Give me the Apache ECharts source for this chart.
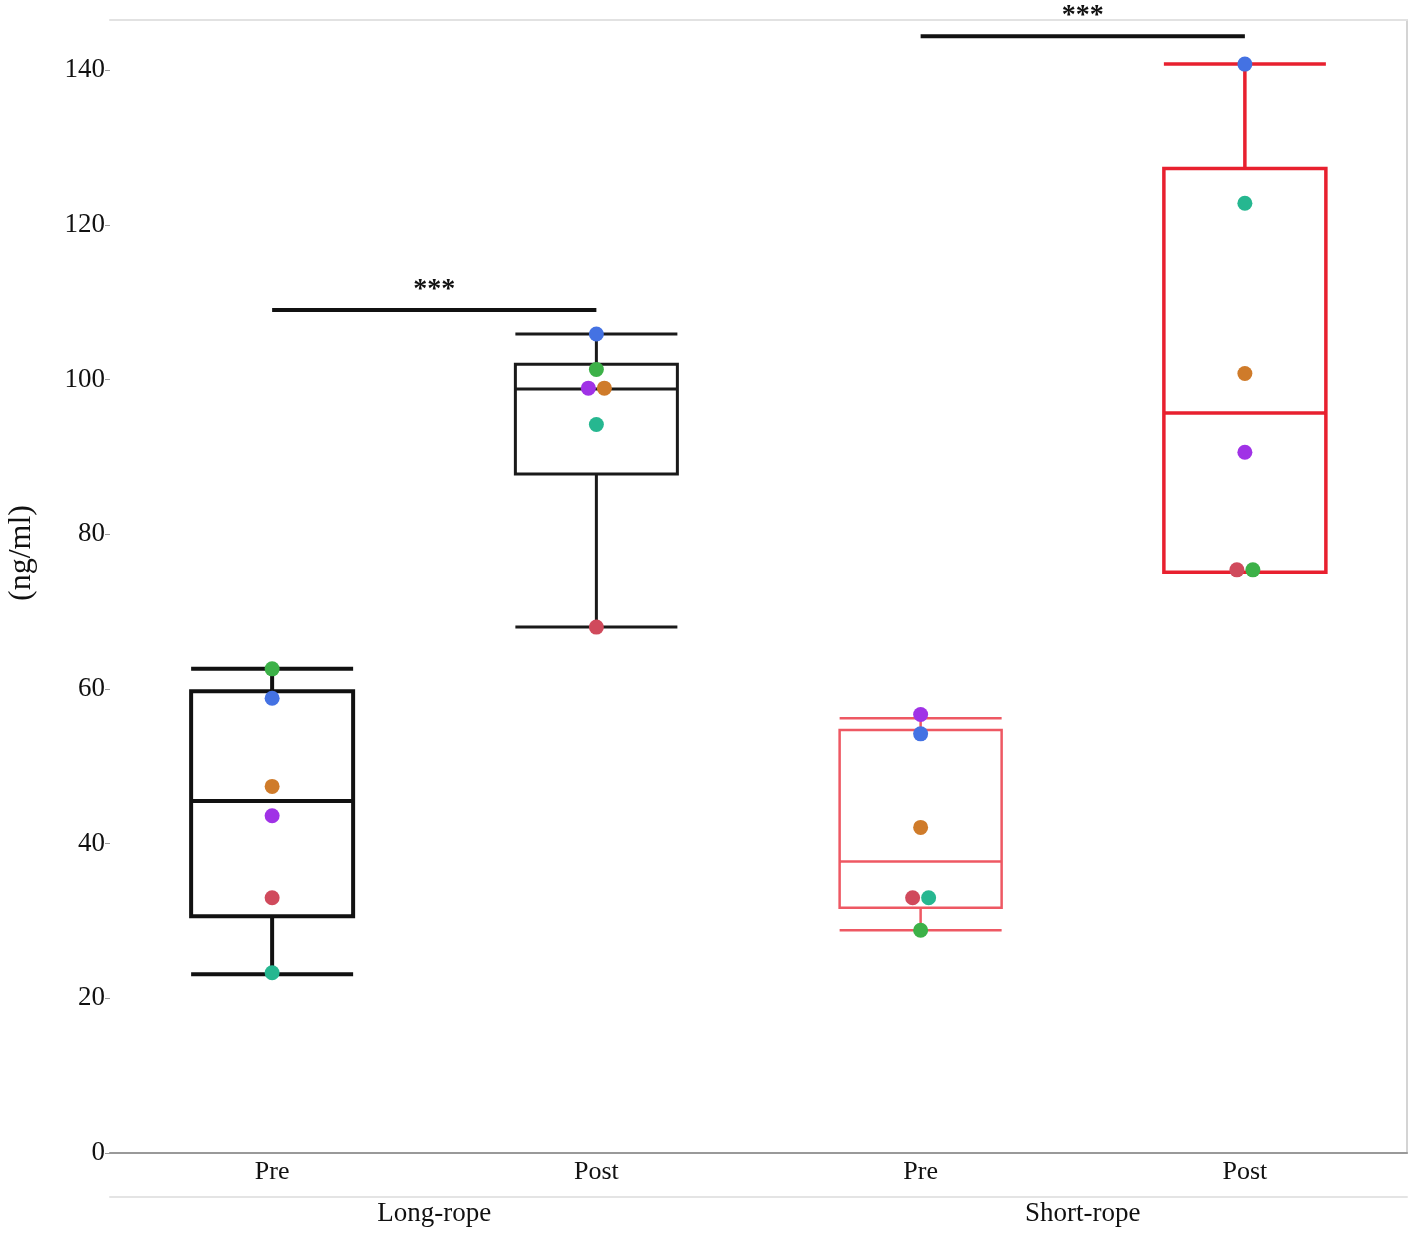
<!DOCTYPE html>
<html>
<head>
<meta charset="utf-8">
<title>Pre / Post boxplot</title>
<script src="https://cdn.jsdelivr.net/npm/echarts@6/dist/echarts.min.js"></script>
<style>
  html, body { margin: 0; padding: 0; background: #fff; }
  #main { width: 1418px; height: 1239px; }
</style>
</head>
<body>
<div id="main"></div>
<script>
// categories
var phases = ['Pre', 'Post', 'Pre', 'Post'];
var groups = ['Long-rope', 'Short-rope'];
var yTicks = [0, 20, 40, 60, 80, 100, 120, 140];

// box stats per category: [min, Q1, median, Q3, max]
var longPre = [23.1, 30.6, 45.5, 59.7, 62.6];
var longPost = [68.0, 87.8, 98.8, 102.0, 105.9];
var shortPre = [28.8, 31.7, 37.7, 54.7, 56.2];
var shortPost = [75.1, 75.1, 95.7, 127.3, 140.8];

// individual subjects, one value per category
var subjBlue = [58.8, 105.9, 54.2, 140.8];
var subjGreen = [62.6, 101.3, 28.8, 75.4];
var subjOrange = [47.4, 98.9, 42.1, 100.8];
var subjPurple = [43.6, 98.9, 56.7, 90.6];
var subjRed = [33.0, 68.0, 33.0, 75.4];
var subjTeal = [23.3, 94.2, 33.0, 122.8];

// significance brackets: [from category, to category, height]
var brackets = [[0, 1, 109.0], [2, 3, 144.4]];

var serif = '"Liberation Serif", "DejaVu Serif", serif';

var myChart = echarts.init(document.getElementById('main'));

var boxStyles = [
    { color: '#fff', borderColor: '#111', borderWidth: 4 },
    { color: '#fff', borderColor: '#1a1a1a', borderWidth: 3 },
    { color: '#fff', borderColor: 'rgba(232,32,47,0.75)', borderWidth: 2.5 },
    { color: '#fff', borderColor: '#e8202f', borderWidth: 3.5 }
];
var boxData = [longPre, longPost, shortPre, shortPost].map(function (v, i) {
    return { value: v, itemStyle: boxStyles[i] };
});

// small sideways nudge where two dots share a value
var nudge = {
    orange: [0, 8, 0, 0],
    purple: [0, -8, 0, 0],
    red: [0, 0, -8, -8],
    teal: [0, 0, 8, 0],
    green: [0, 0, 0, 8]
};

function dots(name, vals, color) {
    var off = nudge[name] || [0, 0, 0, 0];
    return {
        name: name,
        type: 'scatter',
        symbolSize: 15,
        z: 5,
        itemStyle: { color: color, opacity: 1 },
        data: vals.map(function (v, i) {
            return { value: [i, v], symbolOffset: [off[i], 0] };
        })
    };
}

var option = {
    animation: false,
    backgroundColor: '#fff',
    grid: { left: 110, right: 11, top: 20, bottom: 86 },
    xAxis: [{
        type: 'category',
        data: phases,
        position: 'bottom',
        z: 3,
        axisLine: { lineStyle: { color: '#999', width: 2 } },
        axisTick: { show: false },
        axisLabel: { fontFamily: serif, fontSize: 26, color: '#111', margin: 6 }
    }, {
        type: 'category',
        data: groups,
        position: 'bottom',
        offset: 44,
        axisLine: { onZero: false, lineStyle: { color: '#e4e4e4', width: 2 } },
        axisTick: { show: false },
        axisLabel: { fontFamily: serif, fontSize: 27, color: '#111', margin: 3 }
    }, {
        type: 'category',
        data: phases,
        position: 'top',
        axisLine: { onZero: false, lineStyle: { color: '#e2e2e2', width: 2 } },
        axisTick: { show: false },
        axisLabel: { show: false }
    }],
    yAxis: [{
        type: 'value',
        min: 0,
        max: 146.5,
        interval: 20,
        axisLine: { show: false },
        axisTick: { show: true, length: 5, customValues: yTicks, lineStyle: { color: '#999' } },
        axisLabel: { fontFamily: serif, fontSize: 27, color: '#111', margin: 5, customValues: yTicks },
        splitLine: { show: false }
    }, {
        type: 'value',
        min: 0,
        max: 146.5,
        position: 'right',
        axisLine: { show: true, onZero: false, lineStyle: { color: '#d4d4d4', width: 2 } },
        axisTick: { show: false },
        axisLabel: { show: false },
        splitLine: { show: false }
    }],
    graphic: [{
        type: 'text',
        x: 22,
        y: 553,
        rotation: Math.PI / 2,
        style: {
            text: '(ng/ml)',
            font: '32px ' + serif,
            fill: '#111',
            textAlign: 'center',
            textVerticalAlign: 'middle'
        }
    }],
    series: [{
        type: 'boxplot',
        boxWidth: [162, 162],
        data: boxData,
        emphasis: { disabled: true },
        z: 2
    },
    dots('blue', subjBlue, '#4472e3'),
    dots('green', subjGreen, '#3cb148'),
    dots('orange', subjOrange, '#cf7b2a'),
    dots('purple', subjPurple, '#a032e6'),
    dots('red', subjRed, '#d04a5c'),
    dots('teal', subjTeal, '#26b790'),
    {
        type: 'custom',
        data: brackets,
        encode: { x: [0, 1], y: 2 },
        z: 6,
        renderItem: function (params, api) {
            var a = api.coord([api.value(0), api.value(2)]);
            var b = api.coord([api.value(1), api.value(2)]);
            return {
                type: 'group',
                children: [{
                    type: 'line',
                    shape: { x1: a[0], y1: a[1], x2: b[0], y2: b[1] },
                    style: { stroke: '#111', lineWidth: 4 }
                }, {
                    type: 'text',
                    style: {
                        text: '***',
                        x: (a[0] + b[0]) / 2,
                        y: a[1] - 20,
                        textAlign: 'center',
                        textVerticalAlign: 'middle',
                        font: 'bold 28px ' + serif,
                        fill: '#111'
                    }
                }]
            };
        }
    }]
};

myChart.setOption(option);
</script>
</body>
</html>
